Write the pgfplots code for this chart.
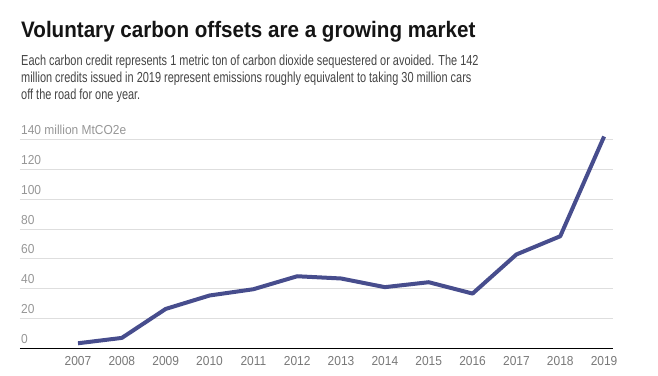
\documentclass[border=0pt]{standalone}
\usepackage{fontspec}
\usepackage{pgfplots}
\pgfplotsset{compat=1.18}
\newfontfamily\rob{Liberation Sans}[FakeStretch=0.92]
\newfontfamily\robsub{Liberation Sans}[FakeStretch=0.755]
\definecolor{linecol}{RGB}{71,77,141}
\definecolor{ylab}{RGB}{150,150,150}
\definecolor{xlab}{RGB}{120,120,120}
\definecolor{subcol}{RGB}{68,68,68}
\definecolor{gridcol}{RGB}{222,222,222}
\begin{document}
\begin{tikzpicture}
\path[use as bounding box] (0pt,0pt) rectangle (658pt,375pt);
\node[anchor=base west, inner sep=0, text=black!92, font=\rob\bfseries\fontsize{22.4}{26}\selectfont] at (21pt,337.7pt) {Voluntary carbon offsets are a growing market};
\node[anchor=base west, inner sep=0, text=subcol, font=\robsub\fontsize{14.5}{17}\selectfont] at (21pt,309.3pt) {Each carbon credit represents 1 metric ton of carbon dioxide sequestered or avoided. The 142};
\node[anchor=base west, inner sep=0, text=subcol, font=\robsub\fontsize{14.5}{17}\selectfont] at (21pt,292.3pt) {million credits issued in 2019 represent emissions roughly equivalent to taking 30 million cars};
\node[anchor=base west, inner sep=0, text=subcol, font=\robsub\fontsize{14.5}{17}\selectfont] at (21pt,275.7pt) {off the road for one year.};
\begin{axis}[
  at={(20pt,26.5pt)}, anchor=south west,
  scale only axis, width=593.3pt, height=209pt,
  xmin=2005.677, xmax=2019.21, ymin=0, ymax=140,
  clip=false,
  axis line style={draw=none},
  tick style={draw=none},
  xtick={2007,2008,2009,2010,2011,2012,2013,2014,2015,2016,2017,2018,2019},
  xticklabels={2007,2008,2009,2010,2011,2012,2013,2014,2015,2016,2017,2018,2019},
  ytick={0,20,40,60,80,100,120,140},
  yticklabels={0,20,40,60,80,100,120,140 million MtCO2e},
  ymajorgrids,
  grid style={gridcol, line width=1pt},
  extra y ticks={0},
  extra y tick labels={},
  extra y tick style={grid style={black, line width=1pt}},
  yticklabel style={anchor=base west, inner sep=0pt, xshift=1pt, yshift=5pt, text=ylab, font=\rob\fontsize{13}{15}\selectfont},
  xticklabel style={anchor=base, inner sep=0pt, yshift=-17.2pt, text=xlab, font=\rob\fontsize{13}{15}\selectfont},
]
\addplot[linecol, line width=4pt, line join=round, mark=none] coordinates {
(2007,3.5) (2008,7.1) (2009,26.5) (2010,35.5) (2011,39.7) (2012,48.4) (2013,46.9)
(2014,41.1) (2015,44.4) (2016,36.8) (2017,63.0) (2018,75.2) (2019,142)
};
\end{axis}
\end{tikzpicture}
\end{document}
